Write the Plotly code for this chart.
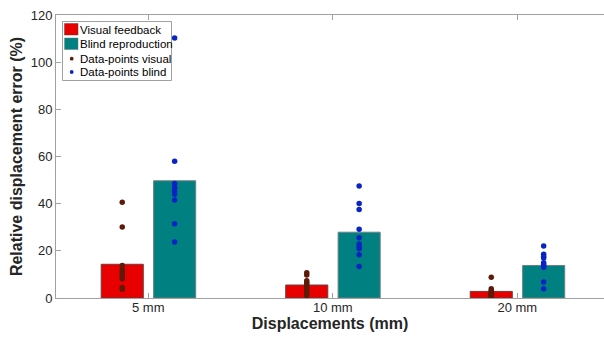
import plotly.graph_objects as go

categories = ["5 mm", "10 mm", "20 mm"]
cat_pos = [1, 2, 3]
visual_mean = [14.3, 5.5, 2.8]
blind_mean = [49.7, 27.9, 13.8]

visual_points = [
    [40.6, 30.1, 13.8, 12.0, 10.7, 10.2, 9.0, 8.2, 4.4, 3.7],
    [10.7, 9.8, 7.3, 6.5, 6.0, 5.0, 3.8, 2.6, 1.8, 1.0],
    [8.8, 3.9, 3.2, 2.6, 2.0, 1.6, 1.3, 1.0, 0.8, 0.6],
]
blind_points = [
    [110.3, 58.0, 48.6, 47.0, 46.5, 45.4, 44.0, 41.6, 31.5, 23.7],
    [47.5, 40.1, 37.5, 29.2, 25.5, 22.9, 21.7, 20.9, 18.3, 13.4],
    [22.1, 18.6, 17.6, 17.0, 15.0, 14.2, 13.5, 13.0, 6.8, 3.9],
]
legend_labels = ["Visual feedback", "Blind reproduction", "Data-points visual", "Data-points blind"]

RED = "#e80000"
TEAL = "#008080"
DOT_V = "#5e1a08"
DOT_B = "#0a24c4"
BAR_W = 0.228
OFF_V = -0.255
OFF_B = 0.029
FONT = "Arial, Liberation Sans, Helvetica, sans-serif"

# plot area in pixels (for the hand-drawn legend)
W, H = 604, 342
ML, MR, MT, MB = 56, 0, 15, 44
PW, PH = W - ML - MR, H - MT - MB


def px(xp):
    return (xp - ML) / PW


def py(yp):
    return (H - MB - yp) / PH


fig = go.Figure()
fig.add_trace(go.Bar(
    x=cat_pos, y=visual_mean, name=legend_labels[0],
    width=BAR_W, offset=OFF_V,
    marker=dict(color=RED, line=dict(color="#6e3a3a", width=1)),
))
fig.add_trace(go.Bar(
    x=cat_pos, y=blind_mean, name=legend_labels[1],
    width=BAR_W, offset=OFF_B,
    marker=dict(color=TEAL, line=dict(color="#6f7f7f", width=1)),
))

vx, vy, bx, by = [], [], [], []
for c, vp, bp in zip(cat_pos, visual_points, blind_points):
    for v in vp:
        vx.append(c + OFF_V + BAR_W / 2)
        vy.append(v)
    for b in bp:
        bx.append(c + OFF_B + BAR_W / 2)
        by.append(b)

fig.add_trace(go.Scatter(
    x=vx, y=vy, mode="markers", name=legend_labels[2],
    marker=dict(color=DOT_V, size=5.5),
))
fig.add_trace(go.Scatter(
    x=bx, y=by, mode="markers", name=legend_labels[3],
    marker=dict(color=DOT_B, size=5.5),
))

# legend box drawn by hand (compact, like the original)
shapes = [
    dict(type="rect", xref="paper", yref="paper",
         x0=px(62.5), x1=px(171.5), y0=py(80.5), y1=py(21.5),
         fillcolor="white", line=dict(color="#a0a0a0", width=1), layer="above"),
    dict(type="rect", xref="paper", yref="paper",
         x0=px(64.5), x1=px(78), y0=py(35), y1=py(23.5),
         fillcolor=RED, line=dict(color="#6e3a3a", width=0.5), layer="above"),
    dict(type="rect", xref="paper", yref="paper",
         x0=px(64.5), x1=px(78), y0=py(49.5), y1=py(38),
         fillcolor=TEAL, line=dict(color="#6f7f7f", width=0.5), layer="above"),
    dict(type="circle", xref="paper", yref="paper",
         x0=px(69.8), x1=px(73.6), y0=py(60.6), y1=py(56.8),
         fillcolor=DOT_V, line=dict(color=DOT_V, width=0), layer="above"),
    dict(type="circle", xref="paper", yref="paper",
         x0=px(69.8), x1=px(73.6), y0=py(73.9), y1=py(70.1),
         fillcolor=DOT_B, line=dict(color=DOT_B, width=0), layer="above"),
]
ann = []
for lbl, yc in zip(legend_labels, [30, 44, 58.7, 72]):
    ann.append(dict(
        xref="paper", yref="paper", x=px(77.5), y=py(yc),
        xanchor="left", yanchor="middle", showarrow=False,
        text=lbl, font=dict(size=11.5, color="#000000", family=FONT),
    ))

fig.update_layout(
    width=W, height=H,
    margin=dict(l=ML, r=MR, t=MT, b=MB),
    paper_bgcolor="white", plot_bgcolor="white",
    font=dict(family=FONT, color="#262626", size=13),
    barmode="overlay",
    showlegend=False,
    shapes=shapes,
    annotations=ann,
    xaxis=dict(
        range=[0.5, 3.47],
        tickmode="array", tickvals=cat_pos, ticktext=categories,
        ticks="inside", ticklen=5, tickcolor="#a0a0a0",
        showline=True, linecolor="#a0a0a0", linewidth=1,
        mirror="ticks", showgrid=False, zeroline=False,
        tickfont=dict(size=13, color="#262626"),
        ticklabelstandoff=-3,
        title=dict(text="<b>Displacements (mm)</b>", font=dict(size=16, color="#262626"), standoff=4),
    ),
    yaxis=dict(
        range=[0, 120], tickvals=[0, 20, 40, 60, 80, 100, 120],
        ticks="inside", ticklen=5, tickcolor="#a0a0a0",
        showline=True, linecolor="#a0a0a0", linewidth=1,
        showgrid=False, zeroline=False,
        tickfont=dict(size=13, color="#262626"),
        title=dict(text="<b>Relative displacement error (%)</b>", font=dict(size=16, color="#262626"), standoff=4),
    ),
)

fig.write_html("out.html")
